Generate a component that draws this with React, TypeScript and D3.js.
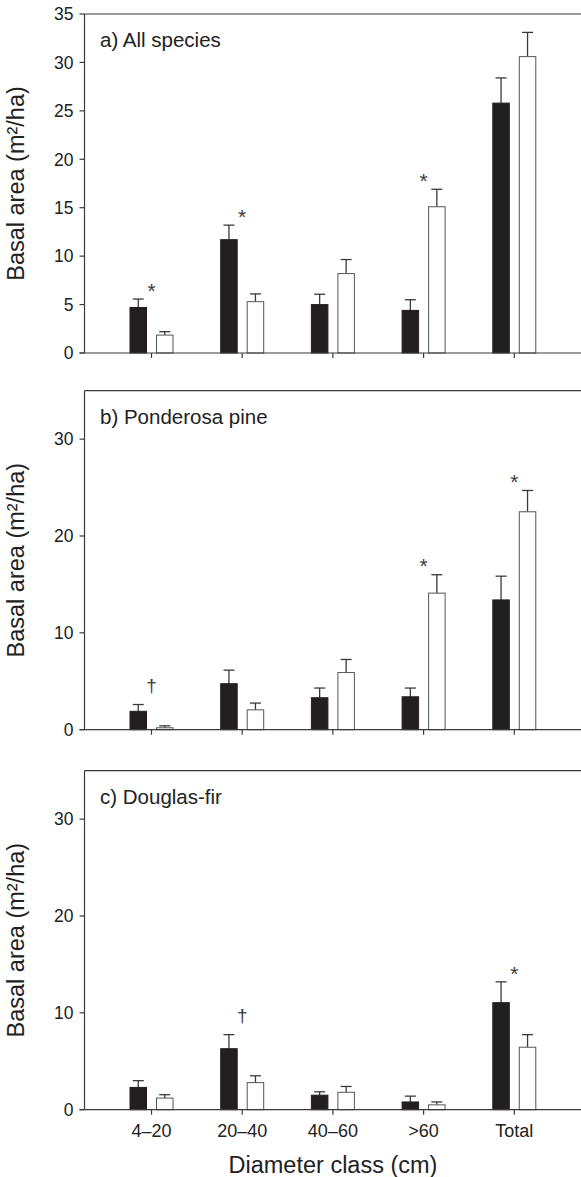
import React from "react";
import * as d3 from "d3";

const categories = ["4–20", "20–40", "40–60", ">60", "Total"];
const seriesNames = ["Group 1", "Group 2"];

// a) All species
const allBlack = [4.7, 11.7, 5.0, 4.4, 25.8];
const allBlackErr = [0.87, 1.5, 1.07, 1.1, 2.6];
const allWhite = [1.85, 5.3, 8.2, 15.1, 30.6];
const allWhiteErr = [0.35, 0.8, 1.45, 1.8, 2.5];
const allMarks = ["*", "*", "", "*", ""];

// b) Ponderosa pine
const pineBlack = [1.9, 4.75, 3.3, 3.4, 13.4];
const pineBlackErr = [0.7, 1.4, 1.0, 0.9, 2.45];
const pineWhite = [0.2, 2.05, 5.9, 14.1, 22.5];
const pineWhiteErr = [0.2, 0.7, 1.35, 1.9, 2.2];
const pineMarks = ["†", "", "", "*", "*"];

// c) Douglas-fir
const firBlack = [2.3, 6.3, 1.5, 0.8, 11.05];
const firBlackErr = [0.7, 1.45, 0.35, 0.6, 2.15];
const firWhite = [1.2, 2.8, 1.8, 0.5, 6.45];
const firWhiteErr = [0.35, 0.7, 0.6, 0.3, 1.3];
const firMarks = ["", "†", "", "", "*"];

const ticksA = [0, 5, 10, 15, 20, 25, 30, 35];
const ticksBC = [0, 10, 20, 30];

const panels = [
  { title: "a) All species", black: allBlack, blackErr: allBlackErr, white: allWhite, whiteErr: allWhiteErr, marks: allMarks, ticks: ticksA, top: 14 },
  { title: "b) Ponderosa pine", black: pineBlack, blackErr: pineBlackErr, white: pineWhite, whiteErr: pineWhiteErr, marks: pineMarks, ticks: ticksBC, top: 390.7 },
  { title: "c) Douglas-fir", black: firBlack, blackErr: firBlackErr, white: firWhite, whiteErr: firWhiteErr, marks: firMarks, ticks: ticksBC, top: 770.7 },
];

const W = 581;
const H = 1177;
const AXIS_X = 84.5;
const PANEL_H = 339;
const FONT = "'Liberation Sans', Arial, Helvetica, sans-serif";
const TEXT = "#222";
const LINE = "#3a3a3a";

export default function App() {
  const x = d3.scaleBand<string>().domain(categories).range([106.15, 559.65]).padding(0);
  const x1 = d3.scaleBand<string>().domain(seriesNames).range([-21.5, 21.5]).paddingInner(0.377);
  const bw = x1.bandwidth();

  return (
    <svg width={W} height={H} style={{ position: "absolute", left: 0, top: 0, background: "#fff" }} fontFamily={FONT}>
      {panels.map((p, pi) => {
        const bottom = p.top + PANEL_H;
        const y = d3.scaleLinear().domain([0, 35]).range([bottom, p.top]);
        const center = (c: string) => (x(c) as number) + x.bandwidth() / 2;
        const groups = [
          { name: seriesNames[0], vals: p.black, errs: p.blackErr, fill: "#231f20", stroke: "#231f20" },
          { name: seriesNames[1], vals: p.white, errs: p.whiteErr, fill: "#ffffff", stroke: "#555" },
        ];
        return (
          <g key={pi}>
            <line x1={AXIS_X} x2={W + 5} y1={p.top} y2={p.top} stroke={LINE} strokeWidth={1.2} />
            <line x1={AXIS_X} x2={AXIS_X} y1={p.top} y2={bottom} stroke={LINE} strokeWidth={1.2} />
            {groups.map((g) =>
              categories.map((c, i) => {
                const bx = center(c) + (x1(g.name) as number);
                const top = y(g.vals[i]);
                const et = y(g.vals[i] + g.errs[i]);
                const cx = bx + bw / 2;
                return (
                  <g key={g.name + c}>
                    <line x1={cx} x2={cx} y1={top} y2={et} stroke={LINE} strokeWidth={1.3} />
                    <line x1={cx - 5.5} x2={cx + 5.5} y1={et} y2={et} stroke={LINE} strokeWidth={1.3} />
                    <rect x={bx} y={top} width={bw} height={bottom - top} fill={g.fill} stroke={g.stroke} strokeWidth={1} />
                  </g>
                );
              })
            )}
            <line x1={AXIS_X - 5} x2={W + 5} y1={bottom} y2={bottom} stroke={LINE} strokeWidth={1.2} />
            {categories.map((c) => (
              <line key={c} x1={center(c)} x2={center(c)} y1={bottom} y2={bottom + 5} stroke={LINE} strokeWidth={1.2} />
            ))}
            {p.ticks.map((t) => (
              <g key={t}>
                <line x1={AXIS_X - 5} x2={AXIS_X} y1={y(t)} y2={y(t)} stroke={LINE} strokeWidth={1.2} />
                <text x={AXIS_X - 11} y={y(t)} dy="0.36em" textAnchor="end" fontSize={17.5} fill={TEXT}>
                  {t}
                </text>
              </g>
            ))}
            {categories.map((c, i) => {
              const m = p.marks[i];
              if (!m) return null;
              const maxTop = Math.max(p.black[i] + p.blackErr[i], p.white[i] + p.whiteErr[i]);
              const isStar = m === "*";
              const cy = y(maxTop) - (isStar ? 13.3 : 18);
              return (
                <text key={"m" + c} x={center(c)} y={cy + (isStar ? 12 : 5.3)} textAnchor="middle" fontSize={isStar ? 21 : 19} fill="#3a3a3a">
                  {m}
                </text>
              );
            })}
            <text x={100} y={p.top + 33} fontSize={20.5} fill={TEXT}>
              {p.title}
            </text>
            <text transform={`translate(23.5,${(p.top + bottom) / 2}) rotate(-90)`} textAnchor="middle" fontSize={23.5} fill={TEXT}>
              Basal area (m²/ha)
            </text>
            {pi === panels.length - 1 &&
              categories.map((c) => (
                <text key={"l" + c} x={center(c)} y={bottom + 27.5} textAnchor="middle" fontSize={18} fill={TEXT}>
                  {c}
                </text>
              ))}
          </g>
        );
      })}
      <text x={333} y={1172.5} textAnchor="middle" fontSize={23.5} fill={TEXT}>
        Diameter class (cm)
      </text>
    </svg>
  );
}
